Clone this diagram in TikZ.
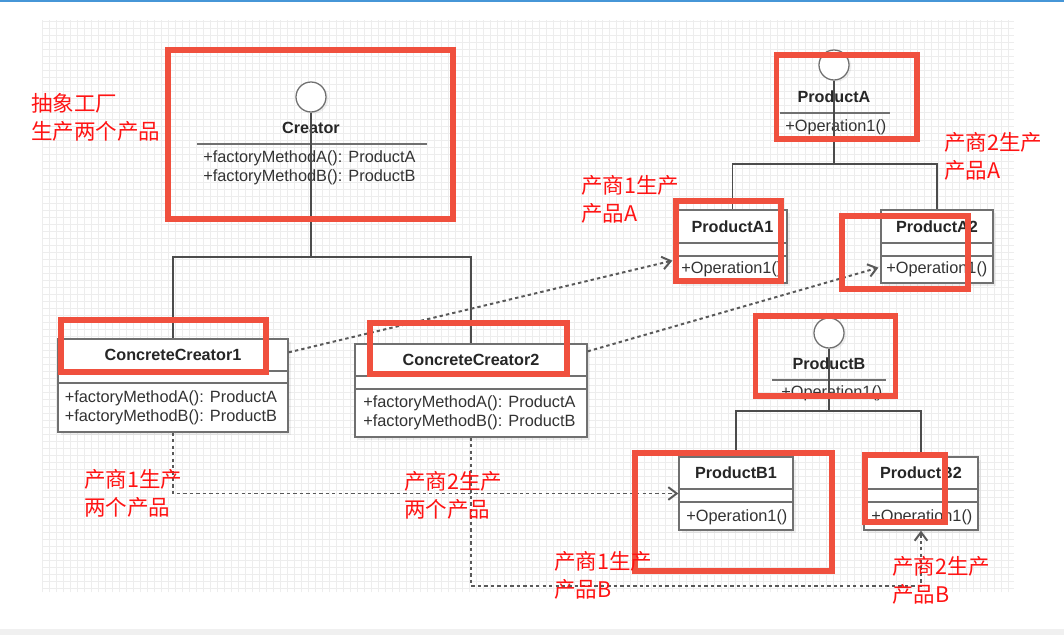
\documentclass[tikz,border=0pt]{standalone}
\usepackage{fontspec}
\setmainfont{Liberation Sans}
\newfontfamily\cjk{Noto Sans CJK SC}
\usetikzlibrary{arrows.meta,fit,calc,shadows}
\definecolor{hlred}{RGB}{240,80,62}
\definecolor{notered}{RGB}{255,20,20}
\definecolor{umlgray}{RGB}{112,112,112}
\definecolor{topblue}{RGB}{70,150,215}

\tikzset{
  classbox/.style={draw=umlgray, line width=0.9pt, fill=white, inner sep=0pt,
    drop shadow={shadow xshift=0.08cm, shadow yshift=-0.08cm, opacity=0.12}},
  lolli/.style={circle, draw=umlgray, line width=0.9pt, fill=white, minimum size=0.75cm, inner sep=0pt,
    drop shadow={shadow xshift=0.06cm, shadow yshift=-0.04cm, opacity=0.12}},
  clsname/.style={font=\fontsize{11.5}{13}\selectfont\bfseries, text=black!85, inner sep=0pt},
  members/.style={font=\fontsize{11.6}{13.5}\selectfont, text=black!80, align=left, anchor=west, inner sep=0pt},
  sepline/.style={draw=umlgray, line width=0.9pt},
  link/.style={draw=black!70, line width=0.9pt},
  dep/.style={draw=black!65, line width=1.4pt, dash pattern=on 2.4pt off 2.2pt,
    -{Straight Barb[length=6pt,width=9pt]}},
  hl/.style={draw=hlred, line width=4pt},
  note/.style={font=\cjk\fontsize{15.3}{20}\selectfont, text=notered, align=left, anchor=west, inner sep=0pt},
}

\begin{document}
\begin{tikzpicture}[x=0.025cm, y=-0.025cm]
  \useasboundingbox (0,0) rectangle (1064,635);
  \fill[white] (0,0) rectangle (1064,635);
  \draw[black!7, line width=0.4pt, step=0.175cm] (42,20) grid (1014,592);
  \fill[black!6] (0,629) rectangle (1064,635);
  \fill[topblue] (0,0) rectangle (1064,2);

  % abstract factory
  \node[lolli] (ic) at (311,97) {};
  \node[clsname] (cn) at (311,128) {Creator};
  \draw[sepline] (197,144) -- (427,144);
  \node[members] (cm) at (203,167.5) {+factoryMethodA(): ProductA\\+factoryMethodB(): ProductB};

  % concrete factories
  \node[classbox, fit={(58,339) (288,432)}] (cc1) {};
  \draw[sepline] (58,371) -- (288,371) (58,383) -- (288,383);
  \node[clsname] (cc1n) at (173,355) {ConcreteCreator1};
  \node[members] (cc1m) at (64.5,407.5) {+factoryMethodA(): ProductA\\+factoryMethodB(): ProductB};

  \node[classbox, fit={(355,344) (587,437)}] (cc2) {};
  \draw[sepline] (355,376) -- (587,376) (355,389) -- (587,389);
  \node[clsname] (cc2n) at (471,360) {ConcreteCreator2};
  \node[members] (cc2m) at (363,413) {+factoryMethodA(): ProductA\\+factoryMethodB(): ProductB};

  % product A
  \node[lolli] (ia) at (834,65) {};
  \node[clsname] (ian) at (834,97) {ProductA};
  \draw[sepline] (780,113) -- (890,113);
  \node[members] (iam) at (785,127) {+Operation1()};

  \node[classbox, fit={(678,210) (787,283)}] (pa1) {};
  \draw[sepline] (678,243) -- (787,243) (678,256) -- (787,256);
  \node[clsname] (pa1n) at (732.5,227) {ProductA1};
  \node[members] (pa1m) at (681,269) {+Operation1()};

  \node[classbox, fit={(881,210) (993,283)}] (pa2) {};
  \draw[sepline] (881,243) -- (993,243) (881,256) -- (993,256);
  \node[clsname] (pa2n) at (937,227) {ProductA2};
  \node[members] (pa2m) at (886,269) {+Operation1()};

  % product B
  \node[lolli] (ib) at (829,333) {};
  \node[clsname] (ibn) at (829,364) {ProductB};
  \draw[sepline] (772,380) -- (886,380);
  \node[members] (ibm) at (781,393) {+Operation1()};

  \node[classbox, fit={(679,457) (793,530)}] (pb1) {};
  \draw[sepline] (679,489) -- (793,489) (679,502) -- (793,502);
  \node[clsname] (pb1n) at (736,473) {ProductB1};
  \node[members] (pb1m) at (686,517) {+Operation1()};

  \node[classbox, fit={(864,457) (978,530)}] (pb2) {};
  \draw[sepline] (864,489) -- (978,489) (864,502) -- (978,502);
  \node[clsname] (pb2n) at (921,473) {ProductB2};
  \node[members] (pb2m) at (871,517) {+Operation1()};

  % inheritance
  \coordinate (cj) at (311,257);
  \draw[link] (ic) -- (cj);
  \draw[link] (cj) -| (cc1);
  \draw[link] (cj) -| (cc2);
  \coordinate (aj) at (834,164);
  \draw[link] (ia) -- (aj);
  \draw[link] (aj) -| (pa1);
  \draw[link] (aj) -| (pa2);
  \coordinate (bj) at (829,411);
  \draw[link] (ib) -- (bj);
  \draw[link] (bj) -| (pb1);
  \draw[link] (bj) -| (pb2);

  % creates
  \draw[dep] ($(cc1.north east)+(0,14)$) -- ($(pa1.south west)+(-5,-23)$);
  \draw[dep] ($(cc2.north east)+(0,8)$) -- ($(pa2.south west)+(-2,-16)$);
  \draw[dep] (cc1) |- (pb1);
  \coordinate (c2b) at (921,586);
  \draw[dep] (cc2) |- (c2b) -- (pb2);

  % highlights
  \draw[hl] (168,50) rectangle (453,219);
  \draw[hl] (776.5,55) rectangle (917,139);
  \draw[hl] (676,201) rectangle (781,281);
  \draw[hl] (842,216) rectangle (968,289);
  \draw[hl] (61,320) rectangle (266,372);
  \draw[hl] (370,323) rectangle (567,374);
  \draw[hl] (755.5,316) rectangle (895.5,396);
  \draw[hl] (635,453) rectangle (832,571);
  \draw[hl] (865,455) rectangle (945,522);

  % notes
  \node[note] (n0) at (31,117.5) {抽象工厂\\生产两个产品};
  \node[note] (n1) at (581,199) {产商1生产\\产品A};
  \node[note] (n2) at (944,156.5) {产商2生产\\产品A};
  \node[note] (n3) at (84,493.5) {产商1生产\\两个产品};
  \node[note] (n4) at (404,495) {产商2生产\\两个产品};
  \node[note] (n5) at (554,575.5) {产商1生产\\产品B};
  \node[note] (n6) at (892,580) {产商2生产\\产品B};
\end{tikzpicture}
\end{document}
